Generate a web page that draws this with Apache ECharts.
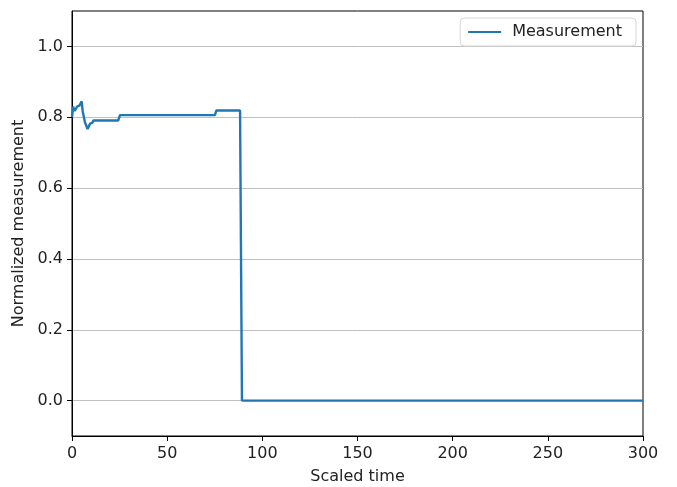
<!DOCTYPE html>
<html><head><meta charset="utf-8">
<script src="https://cdn.jsdelivr.net/npm/echarts@6/dist/echarts.min.js"></script>
<style>html,body{margin:0;padding:0;background:#fff}#c{width:677px;height:487px}</style>
</head><body><div id="c"></div>
<script>
const seriesName = "Measurement";
const times  = [0, 0.6, 1.4, 1.9, 2.8, 3.9, 5.1, 5.6, 6.8, 8.2, 9.5, 10.7, 11.2, 24.3, 25.2, 75.1, 75.8, 88.3, 89.3, 300];
const values = [0.80, 0.83, 0.818, 0.817, 0.831, 0.833, 0.845, 0.817, 0.786, 0.767, 0.782, 0.784, 0.791, 0.791, 0.806, 0.806, 0.819, 0.819, 0, 0];
const yTicks = [0.0, 0.2, 0.4, 0.6, 0.8, 1.0];
const xTicks = [0, 50, 100, 150, 200, 250, 300];

const font = "DejaVu Sans";
const fs = 16;
const chart = echarts.init(document.getElementById('c'), null, {renderer: 'canvas'});
chart.setOption({
  animation: false,
  grid: {left: 72, right: 34, top: 11, bottom: 51, show: true, borderColor: '#000', borderWidth: 1,
    backgroundColor: 'transparent', containLabel: false, outerBoundsMode: 'none'},
  legend: {
    right: 41, top: 18,
    data: [{name: seriesName, icon: 'path://M0,0 L33,0 L33,2 L0,2 Z'}],
    itemWidth: 33, itemHeight: 2, itemGap: 0,
    textStyle: {fontFamily: font, fontSize: fs, color: '#222', padding: [0, 0, 0, 6]},
    borderColor: '#d5d5d5', borderWidth: 1, borderRadius: 4,
    padding: [6, 14, 6, 8], backgroundColor: '#fff'
  },
  xAxis: {
    type: 'value', min: 0, max: 300, interval: 50,
    name: 'Scaled time', nameLocation: 'middle', nameGap: 33,
    nameTextStyle: {fontFamily: font, fontSize: fs, color: '#222'},
    axisLine: {show: true, onZero: false, lineStyle: {color: '#000', width: 1}},
    axisTick: {show: true, length: 5, lineStyle: {color: '#000'}},
    axisLabel: {fontFamily: font, fontSize: fs, color: '#222', margin: 10},
    splitLine: {show: false}
  },
  yAxis: {
    type: 'value', min: -0.1, max: 1.1,
    name: 'Normalized measurement', nameLocation: 'middle', nameGap: 42,
    nameTextStyle: {fontFamily: font, fontSize: fs, color: '#222'},
    axisLine: {show: true, onZero: false, lineStyle: {color: '#000', width: 1}},
    axisTick: {show: true, length: 5, lineStyle: {color: '#000'}, customValues: yTicks},
    axisLabel: {fontFamily: font, fontSize: fs, color: '#222', margin: 9, customValues: yTicks,
      formatter: v => v.toFixed(1)},
    splitLine: {show: true, lineStyle: {color: '#c0c0c0', width: 1}}
  },
  series: [{
    name: seriesName, type: 'line', showSymbol: false, symbol: 'none',
    data: times.map((t, i) => [t, values[i]]),
    lineStyle: {color: '#1f77b4', width: 2.4}, itemStyle: {color: '#1f77b4'},
    clip: true
  }]
});
</script></body></html>
